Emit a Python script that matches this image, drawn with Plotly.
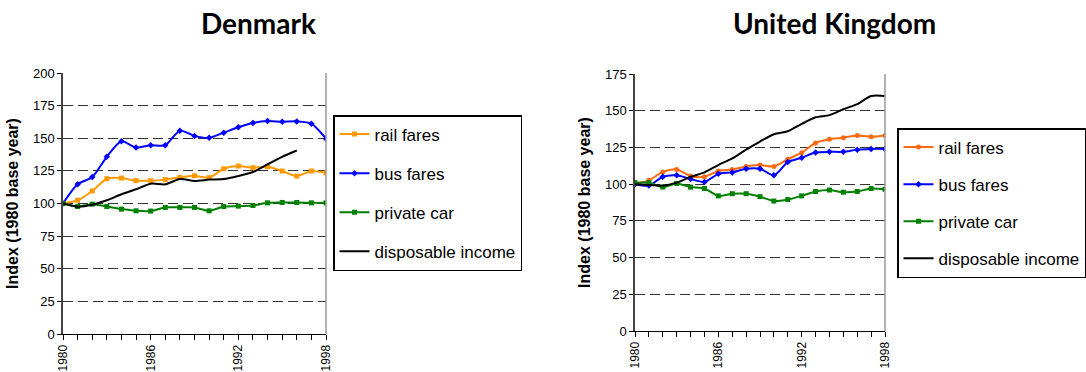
import plotly.graph_objects as go

# ---- data -------------------------------------------------------------
years = list(range(1980, 1999))

dk_rail = [100, 102.5, 109.6, 119, 119.5, 117.5, 117.5, 118.3, 120, 121.3,
           119.8, 126.6, 128.7, 127.4, 128.2, 124.9, 121, 124.9, 123.4]
dk_bus = [100, 114.7, 120.3, 135.8, 147.7, 142.9, 144.7, 144.7, 155.8, 151.8,
          150.3, 154.3, 158.4, 161.7, 163.2, 162.7, 162.9, 161.2, 149.7]
dk_car = [100, 97.7, 99.5, 97.7, 95.7, 94.4, 94.2, 97, 97, 97,
          94.4, 97.7, 98, 98.5, 100.5, 100.8, 100.8, 100.5, 100.5]
dk_income = [100, 97.5, 99, 102.5, 107.1, 110.9, 115.2, 114.7, 118.8, 117.3,
             118.3, 118.8, 121.1, 124.1, 130, 135.8, 140.6, None, None]

uk_rail = [100.3, 102.6, 108.3, 110, 105.5, 105, 109, 110, 112, 113,
           112, 117, 121.4, 128, 130.5, 131.6, 133.2, 132.3, 133.2]
uk_bus = [100, 99, 105, 106, 103.5, 101.5, 107, 108, 110.5, 110.5,
          106, 115, 118, 121.5, 122, 122, 123.5, 124, 124]
uk_car = [101, 101, 98, 100.5, 98, 97, 92, 93.5, 93.5, 91.5,
          88.5, 89.5, 92, 95, 96, 94.5, 95, 97, 96.5]
uk_income = [100, 99.5, 99, 101, 105, 108, 113, 117.5, 123.5, 129,
             134, 136, 141, 145.5, 147, 151, 154.5, 160, 160]

x_ticks = [1980, 1986, 1992, 1998]
series_names = ["rail fares", "bus fares", "private car", "disposable income"]

# ---- styling ------------------------------------------------------------
W, H = 1086, 372
FONT = "Liberation Sans, Arial, sans-serif"
TITLE_FONT = "Lato, sans-serif"


def px_x(v):
    return v / W


def px_y(v):
    return 1 - v / H


fig = go.Figure()


def add_country(x_ref, y_ref, legend_id, rail, bus, car, income, rail_color, rail_symbol):
    specs = [
        (rail, rail_color, rail_symbol),
        (bus, "#0000FF", "diamond"),
        (car, "#008000", "square"),
        (income, "#000000", None),
    ]
    for name, (vals, color, symbol) in zip(series_names, specs):
        mode = "lines+markers" if symbol else "lines"
        fig.add_trace(go.Scatter(
            x=years, y=vals, name=name, mode=mode,
            xaxis=x_ref, yaxis=y_ref, legend=legend_id,
            legendgroup=legend_id + name,
            connectgaps=False,
            line=dict(color=color, width=2, shape="spline", smoothing=0.7),
            marker=dict(color=color, size=5, symbol=symbol) if symbol else None,
        ))


add_country("x", "y", "legend", dk_rail, dk_bus, dk_car, dk_income, "#FF9900", "square")
add_country("x2", "y2", "legend2", uk_rail, uk_bus, uk_car, uk_income, "#FF6A10", "circle")


def xaxis_cfg(domain, anchor):
    return dict(
        domain=domain, anchor=anchor, range=[1980, 1998],
        tickvals=x_ticks, ticktext=[str(v) for v in x_ticks],
        tickangle=-90, tickfont=dict(family=FONT, size=12, color="#000"),
        ticks="outside", ticklen=5, tickcolor="#000",
        minor=dict(tickvals=years, ticks="outside", ticklen=5, tickcolor="#000"),
        showline=True, linecolor="#000", linewidth=1,
        showgrid=False, zeroline=False, fixedrange=True,
    )


def yaxis_cfg(domain, anchor, top):
    return dict(
        domain=domain, anchor=anchor, range=[0, top],
        tickvals=list(range(0, top + 1, 25)),
        tickfont=dict(family=FONT, size=13, color="#000"),
        ticks="outside", ticklen=4, tickcolor="#000",
        showline=True, linecolor="#444", linewidth=1.5,
        showgrid=True, gridcolor="#333", gridwidth=1, griddash="10px,5px",
        zeroline=False, fixedrange=True,
        title=dict(text="Index (1980 base year)", standoff=10,
                   font=dict(family=FONT, size=16, color="#000", weight="bold")),
    )


legend_common = dict(
    font=dict(family=FONT, size=17, color="#000"),
    bgcolor="rgba(255,255,255,1)", bordercolor="#000", borderwidth=1.5,
    xanchor="left", yanchor="top",
)

fig.update_layout(
    width=W, height=H,
    margin=dict(l=0, r=0, t=0, b=0, autoexpand=False),
    paper_bgcolor="white", plot_bgcolor="white",
    xaxis=xaxis_cfg([px_x(63), px_x(326)], "y"),
    yaxis=yaxis_cfg([px_y(334), px_y(73)], "x", 200),
    xaxis2=xaxis_cfg([px_x(635), px_x(885)], "y2"),
    yaxis2=yaxis_cfg([px_y(331), px_y(74)], "x2", 175),
    legend=dict(x=px_x(333), y=px_y(115), tracegroupgap=14, **legend_common),
    legend2=dict(x=px_x(897), y=px_y(128), tracegroupgap=12, **legend_common),
    annotations=[
        dict(text="Denmark", x=px_x(258), y=px_y(23), xref="paper", yref="paper",
             xanchor="center", yanchor="middle", showarrow=False,
             font=dict(family=TITLE_FONT, size=28, color="#000", weight="bold")),
        dict(text="United Kingdom", x=px_x(834), y=px_y(23), xref="paper", yref="paper",
             xanchor="center", yanchor="middle", showarrow=False,
             font=dict(family=TITLE_FONT, size=28, color="#000", weight="bold")),
    ],
    shapes=[
        dict(type="line", xref="x domain", yref="y domain", x0=1, x1=1, y0=0, y1=1,
             line=dict(color="#999", width=1.5)),
        dict(type="line", xref="x2 domain", yref="y2 domain", x0=1, x1=1, y0=0, y1=1,
             line=dict(color="#999", width=1.5)),
    ],
)

fig.write_html("out.html")
